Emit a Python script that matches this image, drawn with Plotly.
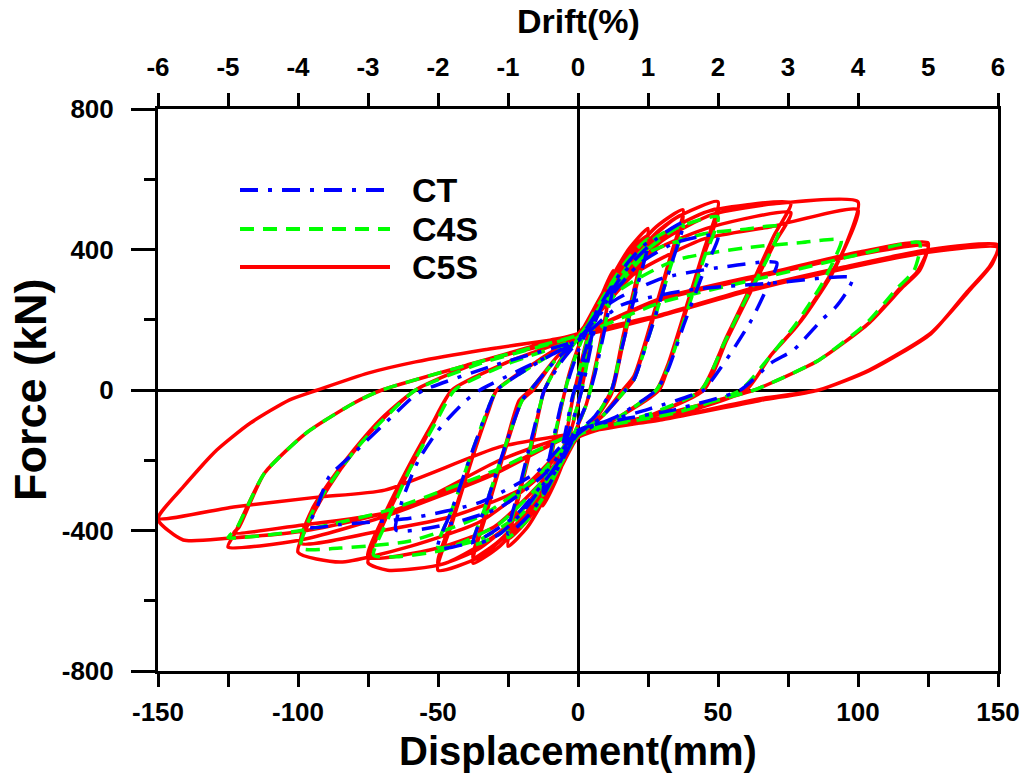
import plotly.graph_objects as go

# ---------------- data ----------------
# Hysteresis loops: (displacement mm, force kN), cycle after cycle
C5S_LOOP = [
    (0, 0), (3, 120), (6, 210), (4, 120), (2, 30), (0, -40), (-3, -130), (-6, -210), (-4, -120), (-2, -30), (0, 40),
    (4, 170), (8, 260), (12.5, 340), (10, 220), (6, 60), (3, -40), (0, -100), (-4, -180), (-8, -260), (-12.5, -330), (-10, -210), (-6, -50), (-3, 50), (0, 120),
    (5, 220), (12, 320), (18, 400), (25, 460), (21, 320), (16, 150), (12, 0), (6, -80), (0, -130), (-6, -220), (-12, -310), (-18, -390), (-25, -445), (-21, -300), (-16, -140), (-12, 0), (-6, 90), (0, 150),
    (6, 235), (13, 330), (19, 400), (25, 440), (21, 300), (16, 130), (12, -10), (6, -85), (0, -130), (-6, -215), (-13, -310), (-19, -380), (-25, -425), (-21, -290), (-16, -130), (-12, 0), (-6, 90), (0, 150),
    (8, 250), (18, 375), (28, 465), (37.5, 513), (33, 380), (26, 190), (20, 40), (16, 0), (8, -80), (0, -135), (-9, -245), (-19, -365), (-28, -445), (-37.5, -493), (-33, -360), (-26, -170), (-20, -30), (-16, 0), (-8, 90), (0, 155),
    (9, 255), (19, 370), (29, 455), (37.5, 500), (33, 370), (26, 180), (20, 30), (17, 0), (8, -80), (0, -135), (-9, -240), (-19, -355), (-29, -435), (-37.5, -478), (-33, -350), (-26, -160), (-21, -30), (-17, 0), (-8, 90), (0, 155),
    (10, 270), (22, 400), (35, 490), (50, 536), (45, 400), (38, 220), (32, 70), (28, 0), (14, -80), (0, -135), (-10, -255), (-22, -385), (-35, -475), (-50, -513), (-45, -380), (-38, -200), (-32, -60), (-29, 0), (-14, 85), (0, 160),
    (11, 270), (23, 390), (36, 470), (50, 515), (45, 385), (38, 210), (32, 60), (29, 0), (14, -80), (0, -135), (-11, -250), (-23, -370), (-36, -455), (-50, -495), (-45, -370), (-38, -195), (-32, -55), (-29, 0), (-14, 85), (0, 160),
    (12, 285), (25, 415), (45, 505), (60, 527), (76, 533), (70, 440), (62, 300), (53, 150), (44, 0), (25, -75), (0, -135), (-12, -265), (-28, -405), (-48, -495), (-68, -513), (-75, -492), (-70, -390), (-61, -240), (-52, -100), (-45, 0), (-25, 80), (0, 160),
    (14, 290), (28, 400), (48, 465), (76, 505), (70, 415), (62, 285), (53, 140), (45, 0), (25, -75), (0, -135), (-14, -270), (-30, -390), (-50, -450), (-75, -476), (-70, -370), (-61, -225), (-52, -95), (-45, 0), (-25, 80), (0, 160),
    (15, 305), (30, 425), (48, 500), (70, 530), (100, 536), (96, 420), (90, 320), (80, 200), (69, 100), (60, 0), (35, -70), (0, -130), (-15, -255), (-35, -375), (-60, -445), (-85, -490), (-100, -462), (-95, -360), (-89, -276), (-80, -175), (-70, -85), (-58, 0), (-35, 80), (0, 160),
    (20, 330), (45, 430), (69, 465), (100, 513), (95, 400), (88, 300), (78, 180), (69, 100), (60, 0), (35, -70), (0, -130), (-20, -280), (-45, -360), (-70, -400), (-99, -436), (-95, -340), (-89, -265), (-80, -170), (-70, -80), (-58, 0), (-35, 80), (0, 160),
    (30, 262), (69, 335), (100, 392), (125, 419), (122, 340), (116, 293), (104, 191), (86, 85), (69, 20), (63, 0), (35, -60), (0, -120), (-30, -240), (-69, -360), (-99, -427), (-125, -447), (-122.5, -407), (-112, -237), (-97, -122), (-80, -37), (-70, 0), (-40, 70), (0, 160),
    (30, 258), (69, 330), (100, 385), (125, 410), (121, 335), (115, 290), (104, 191), (86, 85), (69, 20), (63, 0), (35, -60), (0, -120), (-30, -235), (-69, -350), (-99, -385), (-123, -407), (-121, -390), (-112, -237), (-97, -122), (-80, -37), (-70, 0), (-40, 70), (0, 160),
    (30, 215), (60, 285), (95, 350), (125, 399), (150, 413), (148, 360), (140, 285), (126, 162), (104, 57), (86, 0), (65, -30), (30, -85), (0, -122), (-28, -200), (-60, -330), (-97, -400), (-125, -422), (-141, -427), (-150, -368), (-141, -276), (-129, -171), (-117, -94), (-103, -28), (-93, 0), (-75, 48), (-58, 80), (-34, 114), (-10, 142), (5, 162),
    (30, 212), (60, 280), (95, 345), (125, 392), (150, 405), (147, 352), (139, 280), (126, 160), (104, 55), (86, 0), (65, -25), (29, -85), (0, -122), (-28, -162), (-69, -285), (-93, -305), (-123, -333), (-150, -365), (-141, -276), (-129, -171), (-117, -94), (-103, -28), (-93, 0), (-75, 48), (-58, 80), (-34, 114), (-10, 142), (5, 165),
]

C4S_LOOP = [
    (0, 0), (3, 110), (6, 200), (4, 110), (2, 25), (0, -40), (-3, -120), (-6, -195), (-4, -110), (-2, -25), (0, 40),
    (4, 160), (8, 240), (12.5, 310), (10, 200), (6, 50), (3, -40), (0, -100), (-4, -170), (-8, -240), (-12.5, -300), (-10, -195), (-6, -45), (-3, 45), (0, 115),
    (5, 210), (12, 305), (18, 375), (25, 430), (21, 300), (16, 140), (12, 0), (6, -80), (0, -125), (-6, -210), (-12, -300), (-18, -370), (-25, -420), (-21, -290), (-16, -130), (-12, 0), (-6, 85), (0, 145),
    (8, 240), (18, 355), (28, 435), (37.5, 470), (33, 350), (26, 170), (20, 30), (17, 0), (8, -80), (0, -130), (-9, -235), (-19, -345), (-28, -410), (-37.5, -440), (-33, -330), (-26, -160), (-20, -30), (-17, 0), (-8, 85), (0, 150),
    (10, 260), (22, 380), (35, 460), (50, 493), (45, 375), (38, 200), (32, 60), (28, 0), (14, -80), (0, -130), (-10, -245), (-22, -360), (-35, -425), (-50, -447), (-45, -340), (-38, -180), (-32, -50), (-29, 0), (-14, 80), (0, 150),
    (12, 275), (25, 390), (45, 445), (60, 458), (72, 465), (68, 380), (60, 260), (52, 130), (44, 0), (25, -70), (0, -130), (-12, -255), (-28, -380), (-48, -455), (-65, -475), (-73, -470), (-68, -370), (-60, -225), (-51, -95), (-44, 0), (-25, 75), (0, 150),
    (15, 285), (35, 370), (60, 405), (80, 420), (94, 427), (92, 380), (87, 300), (78, 190), (68, 90), (58, 0), (35, -65), (0, -125), (-15, -250), (-35, -360), (-60, -430), (-85, -450), (-99, -450), (-95, -350), (-88, -260), (-79, -165), (-69, -80), (-58, 0), (-35, 75), (0, 155),
    (30, 250), (69, 325), (100, 385), (122, 419), (120, 340), (114, 290), (103, 190), (86, 85), (69, 20), (63, 0), (35, -60), (0, -120), (-30, -230), (-69, -345), (-99, -400), (-125, -420), (-122, -395), (-112, -237), (-97, -122), (-80, -37), (-70, 0), (-40, 70), (0, 155),
]

CT_LOOP = [
    (0, 0), (3, 100), (6, 180), (4, 100), (2, 20), (0, -40), (-3, -115), (-6, -185), (-4, -100), (-2, -20), (0, 35),
    (4, 150), (8, 230), (12.5, 300), (10, 190), (6, 45), (3, -40), (0, -95), (-4, -165), (-8, -230), (-12.5, -290), (-10, -185), (-6, -40), (-3, 40), (0, 110),
    (5, 200), (12, 295), (18, 365), (25, 420), (21, 290), (16, 130), (12, 0), (6, -75), (0, -120), (-6, -205), (-12, -295), (-18, -360), (-25, -410), (-21, -280), (-16, -120), (-12, 0), (-6, 80), (0, 140),
    (8, 235), (18, 350), (28, 430), (37.5, 476), (33, 350), (26, 170), (20, 30), (17, 0), (8, -80), (0, -125), (-9, -230), (-19, -340), (-28, -410), (-37.5, -440), (-33, -330), (-26, -160), (-20, -30), (-17, 0), (-8, 85), (0, 145),
    (10, 250), (22, 360), (35, 420), (50, 440), (45, 340), (38, 190), (32, 55), (28, 0), (14, -75), (0, -125), (-10, -240), (-22, -355), (-35, -425), (-50, -450), (-45, -340), (-38, -180), (-32, -50), (-29, 0), (-14, 80), (0, 145),
    (12, 250), (30, 318), (50, 348), (71, 362), (68, 300), (62, 200), (55, 110), (48, 30), (45, 0), (25, -55), (8, -94), (0, -115), (-12, -240), (-28, -335), (-48, -385), (-65, -399), (-63, -320), (-57, -200), (-49, -105), (-40, -30), (-35, 0), (-20, 60), (0, 140),
    (15, 240), (40, 285), (70, 305), (98, 319), (96, 280), (92, 236), (87, 199), (77, 114), (69, 77), (58, 0), (35, -55), (0, -115), (-15, -235), (-35, -320), (-60, -365), (-85, -383), (-96, -390), (-93, -330), (-89, -248), (-80, -179), (-67, -80), (-59, -20), (-55, 0), (-30, 70), (0, 140),
]

SERIES_NAMES = ["CT", "C4S", "C5S"]
DISP_TICKS = [-150, -125, -100, -75, -50, -25, 0, 25, 50, 75, 100, 125, 150]
FORCE_TICKS = [-800, -400, 0, 400, 800]
DRIFT_TICKS = [-6, -5, -4, -3, -2, -1, 0, 1, 2, 3, 4, 6]

# ---------------- figure ----------------
W, H = 1022, 778
L, R, T, B = 158, 998, 109, 671
FONT = "Liberation Sans, Arial, sans-serif"


def px(x):
    return (x - L) / (R - L)


def py(y):
    return (B - y) / (B - T)


def bold(s):
    return "<b>%s</b>" % s if s != "" else ""


styles = {
    "C5S": dict(color="#FF0000", dash="solid"),
    "C4S": dict(color="#00FF00", dash="14px,9px"),
    "CT": dict(color="#0000FF", dash="18px,10px,4px,10px"),
}
loops = {"C5S": C5S_LOOP, "C4S": C4S_LOOP, "CT": CT_LOOP}

fig = go.Figure()
for name in ["C5S", "C4S", "CT"]:
    pts = loops[name]
    fig.add_trace(go.Scatter(
        x=[p[0] for p in pts], y=[p[1] for p in pts], mode="lines", name=name,
        line=dict(color=styles[name]["color"], dash=styles[name]["dash"], width=3.5,
                  shape="spline", smoothing=0.6),
        showlegend=False, hoverinfo="skip"))

# invisible trace to anchor top drift axis
fig.add_trace(go.Scatter(x=[DRIFT_TICKS[0], DRIFT_TICKS[-1]], y=[0, 0], xaxis="x2",
                         mode="lines", line=dict(width=0), opacity=0,
                         showlegend=False, hoverinfo="skip"))

tickfont = dict(family=FONT, size=26, color="black", weight="bold")

fig.update_layout(
    width=W, height=H,
    margin=dict(l=L, r=W - R, t=T, b=H - B, autoexpand=False),
    paper_bgcolor="white", plot_bgcolor="white",
    showlegend=False,
    xaxis=dict(range=[-150, 150], tickmode="array", tickvals=DISP_TICKS,
               ticktext=[bold(str(v)) if v % 50 == 0 else "" for v in DISP_TICKS],
               ticks="outside", ticklen=13, tickwidth=2.5, tickcolor="black",
               showline=True, linewidth=3, linecolor="black", mirror=False,
               showgrid=False, zeroline=True, zerolinecolor="black", zerolinewidth=2.5,
               tickfont=tickfont, ticklabelstandoff=3, automargin=False),
    yaxis=dict(range=[-800, 800], tickmode="array", tickvals=FORCE_TICKS,
               ticktext=[bold(str(v)) for v in FORCE_TICKS],
               ticks="outside", ticklen=24, tickwidth=2.5, tickcolor="black",
               minor=dict(dtick=200, tick0=0, ticks="outside", ticklen=11, tickwidth=2.5,
                          tickcolor="black", showgrid=False),
               showline=True, linewidth=3, linecolor="black", mirror=True,
               showgrid=False, zeroline=True, zerolinecolor="black", zerolinewidth=2.5,
               tickfont=tickfont, ticklabelstandoff=12, automargin=False),
    xaxis2=dict(range=[-6, 6], overlaying="x", anchor="y", side="top",
                tickmode="array", tickvals=DRIFT_TICKS, ticktext=[bold(str(v)) for v in DRIFT_TICKS],
                ticks="outside", ticklen=13, tickwidth=2.5, tickcolor="black",
                showline=True, linewidth=3, linecolor="black",
                showgrid=False, zeroline=False, tickfont=tickfont, ticklabelstandoff=7,
                automargin=False),
)

annotations = [
    dict(text="<b>Drift(%)</b>", x=0.5, y=py(21), xref="paper", yref="paper", showarrow=False,
         font=dict(family=FONT, size=34, color="black", weight="bold"), xanchor="center", yanchor="middle"),
    dict(text="<b>Displacement(mm)</b>", x=0.5, y=py(751), xref="paper", yref="paper", showarrow=False,
         font=dict(family=FONT, size=40, color="black", weight="bold"), xanchor="center", yanchor="middle"),
    dict(text="<b>Force (kN)</b>", x=px(30), y=0.5, xref="paper", yref="paper", showarrow=False, textangle=-90,
         font=dict(family=FONT, size=45, color="black", weight="bold"), xanchor="center", yanchor="middle"),
    dict(text="<b>5</b>", x=5, y=py(67), xref="x2", yref="paper", showarrow=False,
         font=tickfont, xanchor="center", yanchor="middle"),
]

# custom legend (long line samples as in the reference)
legend_rows = [("CT", 190), ("C4S", 229), ("C5S", 267)]
shapes = []
for name, yy in legend_rows:
    shapes.append(dict(type="line", xref="paper", yref="paper",
                       x0=px(240), x1=px(390), y0=py(yy), y1=py(yy),
                       line=dict(color=styles[name]["color"], width=4, dash=styles[name]["dash"])))
    annotations.append(dict(text="<b>%s</b>" % name, x=px(410), y=py(yy), xref="paper", yref="paper",
                            showarrow=False, xanchor="left", yanchor="middle",
                            font=dict(family=FONT, size=34, color="black", weight="bold")))

fig.update_layout(annotations=annotations, shapes=shapes)
fig.write_html("out.html")
